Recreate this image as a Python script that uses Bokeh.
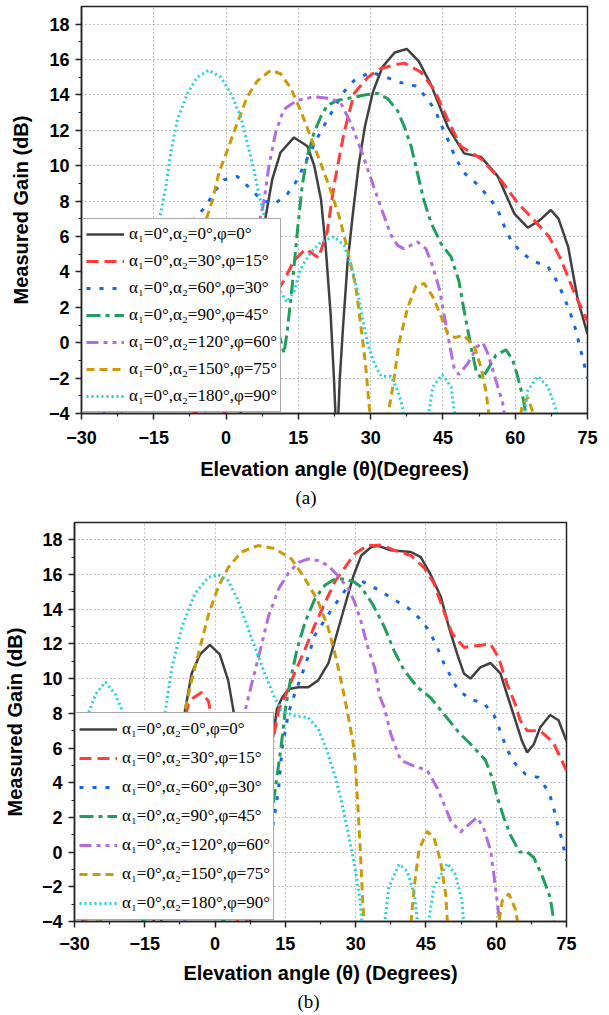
from bokeh.plotting import figure
from bokeh.models import FixedTicker, Legend, LegendItem, Title, Range1d
from bokeh.layouts import column, row
from bokeh.embed import file_html
from bokeh.resources import INLINE

# ---------------- data: panel (a) ----------------
labels = ["α₁=0°,α₂=0°,φ=0°", "α₁=0°,α₂=30°,φ=15°", "α₁=0°,α₂=60°,φ=30°",
          "α₁=0°,α₂=90°,φ=45°", "α₁=0°,α₂=120°,φ=60°", "α₁=0°,α₂=150°,φ=75°",
          "α₁=0°,α₂=180°,φ=90°"]
x_ticks = [-30, -15, 0, 15, 30, 45, 60, 75]
y_ticks = [-4, -2, 0, 2, 4, 6, 8, 10, 12, 14, 16, 18]

a0_x = [2, 5, 7, 8.2, 9.6, 11.3, 14.1, 16.9, 18.3, 19.7, 20.7, 21.7, 22.4, 23.0, 23.6, 24.3, 25.2, 26.4, 27.5, 28.8, 30.5, 32.5, 35.0, 37.5, 40.0, 42.5, 46.0, 49.4, 52.9, 56.4, 59.8, 62.6, 65.0, 67.4, 69.0, 71.0, 73.0, 75.0]
a0_y = [-6, 0, 4.5, 7.1, 9.25, 10.75, 11.6, 11.1, 10.0, 8.1, 5.3, 1.6, -2.1, -6, -2.0, 1.0, 4.5, 7.5, 10.0, 12.2, 14.2, 15.6, 16.4, 16.6, 15.9, 14.6, 12.2, 10.7, 10.5, 9.4, 7.3, 6.5, 6.9, 7.5, 7.0, 5.4, 2.4, 0.5]

a30_x = [-30, -20, -10, -1.3, 3, 7, 9.9, 12.0, 14.0, 16.5, 19.2, 21.0, 22.4, 24.5, 26.6, 29.4, 32.1, 35.0, 37.0, 40.4, 43.2, 46.0, 48.7, 52.9, 57.0, 60.5, 64.0, 67.0, 69.5, 72.0, 75.0]
a30_y = [1.8, -1, -3.5, -4.5, -2, 1.0, 2.6, 3.5, 4.6, 5.3, 4.8, 6.3, 8.9, 11.9, 14.1, 15.0, 15.5, 15.7, 15.8, 15.3, 14.3, 12.6, 11.1, 10.4, 9.2, 7.9, 6.9, 6.0, 4.7, 3.0, 1.2]

a60_x = [-30, -20, -10, -4.2, -2.5, -0.5, 2.3, 4.7, 7.2, 9.9, 12.7, 14.8, 16.1, 19.0, 21.0, 24.2, 26.5, 30.0, 33.2, 36.3, 39.4, 41.8, 43.6, 45.0, 46.3, 47.7, 49.4, 51.9, 54.6, 56.4, 57.7, 59.1, 61.2, 63.9, 66.8, 68.8, 70.1, 71.4, 72.6, 73.3, 74.2, 75.0]
a60_y = [3.1, 4.5, 6.0, 7.7, 8.5, 9.2, 9.4, 8.8, 8.1, 7.8, 8.4, 9.2, 10.0, 11.6, 12.6, 14.1, 14.8, 15.3, 15.0, 14.7, 14.5, 13.8, 13.0, 12.1, 11.3, 10.4, 9.6, 9.0, 8.2, 7.5, 6.6, 5.8, 5.1, 4.6, 4.3, 3.4, 2.6, 1.7, 0.7, -0.1, -1.1, -2.0]

a90_x = [-30, -20, -10, -1.1, 3, 7.2, 9.9, 11.0, 12.0, 12.7, 13.75, 14.8, 15.8, 16.9, 18.3, 19.7, 21.0, 23.1, 25.2, 28.7, 31.4, 33.5, 35.6, 37.0, 38.4, 39.7, 41.0, 42.5, 44.6, 46.7, 48.3, 49.4, 50.8, 51.9, 52.9, 53.9, 56.0, 58.1, 59.5, 60.5, 61.6, 62.2, 63.0]
a90_y = [-1.7, -4.5, 2, 7.0, 6.0, 3.5, 2.0, 0.5, -0.6, 0.65, 3.3, 6.3, 8.9, 10.6, 11.9, 12.8, 13.4, 13.7, 13.8, 14.0, 14.1, 13.8, 13.1, 12.2, 11.1, 9.6, 8.1, 6.8, 5.6, 4.85, 3.5, 1.8, -0.2, -1.6, -2.0, -1.7, -0.7, -0.4, -1.0, -1.9, -3.1, -4.0, -5]

a120_x = [-30, -20, -10, -5, 0, 4, 7.8, 8.9, 10.3, 12.0, 14.8, 18.3, 21.7, 23.8, 25.9, 28.0, 30.1, 32.2, 34.2, 35.6, 36.9, 39.7, 41.5, 42.9, 44.3, 45.3, 46.3, 47.3, 48.3, 50.1, 52.2, 53.3, 54.3, 55.3, 56.4, 57.4, 58.0]
a120_y = [-3.1, -5, -5, -4.2, -1, 3.5, 7.9, 10.0, 11.9, 13.2, 13.7, 13.9, 13.8, 13.55, 12.4, 10.9, 9.25, 7.6, 6.1, 5.5, 5.3, 5.7, 5.3, 4.3, 3.0, 1.5, 0.0, -1.4, -1.8, -1.2, -0.2, 0.0, -0.6, -1.5, -2.5, -3.4, -4.5]

a150_x = [-30, -20, -12, -4.2, -2.8, -1.5, 0.3, 2.3, 4.4, 6.5, 9.3, 11.3, 13.4, 15.5, 17.6, 19.7, 21.7, 23.5, 25.0, 26.9, 28.0, 29.0, 29.7, 30.2, 33.0, 34.6, 35.9, 37.7, 39.4, 41.1, 42.9, 44.6, 46.0, 47.4, 49.4, 51.5, 52.9, 53.9, 55.0, 60.5, 61.5, 62.6, 64.0, 64.5]
a150_y = [3.9, 2, 3, 6.9, 8.06, 9.6, 10.9, 12.4, 13.9, 14.8, 15.4, 15.2, 14.4, 13.1, 11.6, 10.1, 8.6, 7.1, 5.5, 3.2, 0.9, -1.4, -3.6, -5, -5, -2.5, 0.0, 2.0, 3.2, 3.35, 2.6, 1.5, 0.5, 0.3, 0.4, -0.2, -1.4, -2.7, -5, -5, -3.5, -3.1, -4.2, -5]

a180_x = [-30, -22, -16, -13.6, -12.5, -11.5, -10.1, -8.0, -6.0, -3.6, -1.1, 1.0, 3.0, 4.4, 5.8, 6.8, 7.9, 9.2, 10.3, 11.3, 12.6, 14.1, 15.5, 17.6, 19.7, 22.4, 24.5, 25.9, 27.3, 28.3, 29.4, 30.8, 32.2, 34.2, 35.6, 36.6, 37.2, 41.5, 42.9, 44.9, 46.7, 47.9, 61.4, 62.6, 64.7, 66.8, 68.5, 69.0]
a180_y = [1.4, 0, 4, 7.3, 8.8, 10.7, 12.6, 14.1, 15.0, 15.4, 15.0, 14.1, 12.8, 11.3, 9.75, 8.4, 7.2, 5.9, 4.0, 2.9, 2.3, 2.9, 4.2, 5.1, 5.7, 6.0, 5.5, 4.4, 2.9, 1.4, -0.1, -1.2, -1.9, -1.9, -2.7, -3.6, -5, -5, -2.5, -1.8, -2.5, -5, -5, -2.7, -1.9, -2.5, -3.8, -5]

# ---------------- data: panel (b) ----------------
b0_x = [-30, -25, -20, -15, -12.5, -12.2, -11.7, -9, -6.4, -5.0, -3.2, -1.1, 1.0, 2.8, 3.9, 5.5, 6.2, 7.0, 10, 13.2, 14.3, 15.7, 17.8, 19.9, 22.0, 24.2, 25.9, 27.7, 29.5, 31.2, 33.4, 34.8, 37.5, 41.8, 43.9, 46.0, 48.2, 49.9, 51.7, 53.1, 54.5, 56.6, 58.8, 60.9, 62.3, 64.1, 65.5, 66.6, 68.0, 69.4, 71.5, 73.3, 75.0]
b0_y = [-5, -2, 0, -2, -4.5, -6, -4.5, 3, 8.2, 10.3, 11.4, 11.95, 11.4, 9.9, 8.2, 3, -2, -5, 2, 8.25, 8.9, 9.4, 9.5, 9.5, 9.9, 10.9, 12.5, 14.2, 15.9, 17.1, 17.6, 17.65, 17.4, 17.3, 17.0, 16.0, 14.7, 12.96, 11.4, 10.3, 10.0, 10.65, 10.9, 10.3, 9.1, 7.6, 6.4, 5.75, 6.2, 7.2, 7.9, 7.6, 6.4]

b30_x = [-30, -20, -12, -8, -5.7, -4.6, -2.9, -1.4, 1, 3.5, 4.8, 5.8, 6.7, 10, 13.6, 15.0, 17.1, 19.2, 21.3, 23.5, 25.6, 27.7, 29.8, 32.7, 34.0, 35.5, 38.2, 41.8, 44.6, 46.7, 48.8, 50.6, 53.1, 55.9, 58.8, 60.5, 62.3, 64.1, 65.1, 66.6, 69.4, 72.2, 73.6, 75.0]
b30_y = [-5, 0, 3, 6, 8.55, 8.9, 9.2, 8.7, 5, 0, -4, -6, -4, 3, 8.25, 9.0, 10.4, 11.7, 13.1, 14.4, 15.6, 16.4, 17.2, 17.7, 17.67, 17.7, 17.4, 17.1, 16.4, 15.5, 13.9, 12.6, 11.8, 11.9, 12.0, 11.2, 9.7, 8.5, 7.6, 7.0, 7.0, 6.3, 5.5, 4.7]

b60_x = [-30, -20, -10, 0, 8, 12, 13.5, 14.3, 15.7, 17.1, 18.5, 19.9, 21.3, 23.1, 24.9, 27.0, 29.1, 30.5, 31.8, 35.0, 37.9, 41.1, 43.5, 45.6, 47.1, 48.8, 51.7, 54.5, 57.3, 59.5, 60.9, 62.2, 63.7, 66.2, 69.0, 71.2, 72.2, 73.1, 74.0, 75.0]
b60_y = [-5, -3, -5, -4.5, -2, 1, 3.5, 6.0, 8.06, 9.2, 10.2, 11.3, 12.5, 13.25, 14.0, 14.8, 15.6, 15.75, 15.55, 15.1, 14.6, 14.1, 13.5, 12.8, 12.0, 10.9, 9.4, 8.8, 8.6, 7.9, 6.95, 6.0, 5.2, 4.5, 4.3, 3.5, 2.6, 1.6, 0.75, -0.5]

b90_x = [-30, -20, -10, 0, 8, 12, 13.8, 14.5, 15.0, 16.0, 17.5, 19.2, 21.3, 23.5, 25.6, 27.7, 29.8, 31.1, 33.6, 36.1, 38.2, 40.3, 43.2, 46.0, 49.0, 52.0, 55.0, 57.7, 59.1, 60.2, 61.6, 63.0, 65.0, 66.6, 68.0, 70.0, 71.5, 72.2, 72.8]
b90_y = [-5, -3, -5, -4.5, -2, 2, 5.5, 7.0, 8.25, 9.8, 11.7, 13.25, 14.6, 15.4, 15.75, 15.75, 15.55, 15.3, 14.3, 13.0, 11.6, 10.5, 9.5, 8.9, 7.9, 6.9, 6.1, 5.3, 4.3, 3.2, 2.0, 1.0, 0.0, 0.0, -0.3, -1.5, -2.6, -3.8, -5]

b120_x = [-30, -20, -10, 0, 3, 6.5, 7.9, 9.7, 11.4, 13.6, 15.7, 17.8, 19.9, 22.0, 24.2, 26.3, 28.4, 29.8, 31.2, 32.7, 34.1, 35.1, 36.1, 37.5, 39.6, 42.1, 45.3, 47.4, 48.8, 50.3, 52.4, 54.2, 55.9, 57.3, 58.8, 59.5, 60.2, 60.7, 61.2]
b120_y = [-5, -3, -5, -2, 3, 8.25, 9.8, 11.7, 13.6, 15.2, 16.1, 16.7, 16.9, 16.8, 16.5, 15.9, 15.2, 14.4, 13.25, 11.7, 10.6, 9.0, 8.35, 6.8, 5.3, 5.0, 4.7, 3.7, 2.8, 1.8, 1.15, 1.6, 2.0, 1.4, 0.1, -1.3, -2.8, -4, -5]

b150_x = [-30, -25.5, -20, -12, -6.4, -5.0, -3.2, -1.4, 0.7, 2.8, 5.6, 9.2, 12.7, 16.3, 19.1, 21.9, 24.1, 25.8, 27.2, 28.3, 29.4, 29.9, 30.4, 31.0, 31.5, 32.0, 41.5, 42.5, 43.5, 45.2, 46.7, 48.1, 49.2, 49.8, 60.0, 61.3, 62.7, 64.1, 65.2]
b150_y = [-3, -4.5, 0, 4, 8.2, 9.9, 11.8, 13.7, 15.3, 16.4, 17.3, 17.67, 17.5, 16.9, 15.8, 14.5, 12.96, 11.2, 9.5, 8.0, 6.4, 5.2, 3.0, 0.1, -2.8, -5, -5, -2.0, 0.1, 1.2, 0.85, -0.5, -2.4, -5, -5, -2.8, -2.4, -3.3, -5]

b180_x = [-30, -27.0, -25.5, -23.4, -21.3, -19.9, -17, -15, -13, -10.7, -9.2, -7.1, -4.3, -1.4, 0.7, 2.8, 4.9, 6.7, 8.5, 10.6, 12.7, 14.1, 15.0, 17.1, 19.9, 22.0, 23.8, 25.6, 27.0, 28.4, 29.8, 30.9, 31.3, 31.6, 35.8, 37.1, 39.3, 41.0, 42.5, 43.6, 45.0, 46.7, 49.6, 51.3, 52.7, 53.3]
b180_y = [4.1, 8.0, 9.1, 9.8, 9.1, 8.2, 3, -5, 2, 8.0, 10.65, 12.96, 14.9, 15.85, 16.0, 15.65, 14.5, 13.15, 11.8, 10.3, 8.9, 8.2, 8.06, 7.85, 7.75, 7.1, 5.9, 4.4, 2.9, 1.1, -0.8, -2.7, -3.9, -5, -5, -2.0, -0.7, -1.1, -2.4, -5, -5, -2.0, -0.65, -1.3, -2.8, -5]

# ---------------- styles ----------------
colors = ["#404040", "#ff3b3b", "#1565e6", "#1f9e5c", "#b36be0", "#cc9a06", "#22d3da"]
dashes = ["solid", "12 6", "4 9", "14 5 4 5", "12 5 4 5 4 5", "8 5", "2 3"]
widths = [2.5, 3, 3, 3, 3, 3, 3]

SANS = "Liberation Sans"
SERIF = "Liberation Serif"


def make_panel(series, xlabel, caption, height, top, bottom, left, right,
               tick_standoff, label_standoff, ylab_standoff, cap_offset, cap_standoff,
               item_h):
    p = figure(width=609, height=height, x_range=Range1d(-30, 75), y_range=Range1d(-4, 19),
               output_backend="svg", toolbar_location=None,
               min_border_top=top, min_border_bottom=bottom,
               min_border_left=left, min_border_right=right)
    p.background_fill_color = "white"
    p.border_fill_color = "white"
    p.outline_line_color = "#222222"
    p.outline_line_width = 1.5

    p.xaxis.ticker = FixedTicker(ticks=x_ticks, minor_ticks=[-22.5, -7.5, 7.5, 22.5, 37.5, 52.5, 67.5])
    p.yaxis.ticker = FixedTicker(ticks=y_ticks, minor_ticks=list(range(-3, 19, 2)))
    for ax in (p.xaxis, p.yaxis):
        ax.axis_line_color = "#222222"
        ax.axis_line_width = 1.5
        ax.major_tick_line_color = "#222222"
        ax.minor_tick_line_color = "#222222"
        ax.major_tick_line_width = 1.5
        ax.minor_tick_line_width = 1.2
        ax.major_tick_out = 6
        ax.major_tick_in = 0
        ax.minor_tick_out = 3
        ax.minor_tick_in = 0
        ax.major_label_text_font = SANS
        ax.major_label_text_font_style = "bold"
        ax.major_label_text_font_size = "18px"
        ax.major_label_text_color = "black"
        ax.axis_label_text_font = SANS
        ax.axis_label_text_font_style = "bold"
        ax.axis_label_text_font_size = "20px"
        ax.axis_label_text_color = "black"
    p.xaxis.major_label_standoff = tick_standoff
    p.yaxis.major_label_standoff = 6
    p.xaxis.axis_label = xlabel
    p.yaxis.axis_label = "Measured Gain (dB)"
    p.xaxis.axis_label_standoff = label_standoff
    p.yaxis.axis_label_standoff = ylab_standoff

    for g in (p.xgrid, p.ygrid):
        g.grid_line_color = "#8a8a8a"
        g.grid_line_dash = "1 3"
        g.grid_line_width = 1

    items = []
    for (xs, ys), lab, c, d, w in zip(series, labels, colors, dashes, widths):
        r = p.line(xs, ys, line_color=c, line_dash=d, line_width=w)
        items.append(LegendItem(label=lab, renderers=[r]))

    leg = Legend(items=items, location="bottom_left")
    leg.label_text_font = SERIF
    leg.label_text_font_size = "17px"
    leg.label_text_color = "black"
    leg.glyph_width = 38
    leg.glyph_height = item_h
    leg.label_height = item_h
    leg.spacing = 3
    leg.padding = 3
    leg.margin = 1
    leg.label_standoff = 5
    leg.border_line_color = "#555555"
    leg.border_line_width = 1
    leg.background_fill_color = "white"
    leg.background_fill_alpha = 1.0
    p.add_layout(leg)

    cap = Title(text=caption, align="left", offset=cap_offset, text_font=SERIF,
                text_font_size="19px", text_font_style="normal", text_color="black",
                standoff=cap_standoff)
    p.add_layout(cap, "below")
    return p


series_a = [(a0_x, a0_y), (a30_x, a30_y), (a60_x, a60_y), (a90_x, a90_y),
            (a120_x, a120_y), (a150_x, a150_y), (a180_x, a180_y)]
series_b = [(b0_x, b0_y), (b30_x, b30_y), (b60_x, b60_y), (b90_x, b90_y),
            (b120_x, b120_y), (b150_x, b150_y), (b180_x, b180_y)]

pa = make_panel(series_a, "Elevation angle (θ)(Degrees)", "(a)", 515, 6, 102, 81, 22,
                11, 11, 14, 214, 5, 24)
pb = make_panel(series_b, "Elevation angle (θ) (Degrees)", "(b)", 500, 7, 94, 72, 43,
                9, 9, 13, 223, 4, 26)

layout = column(row(pa), row(pb), spacing=0)
open("out.html", "w").write(file_html(layout, INLINE))
